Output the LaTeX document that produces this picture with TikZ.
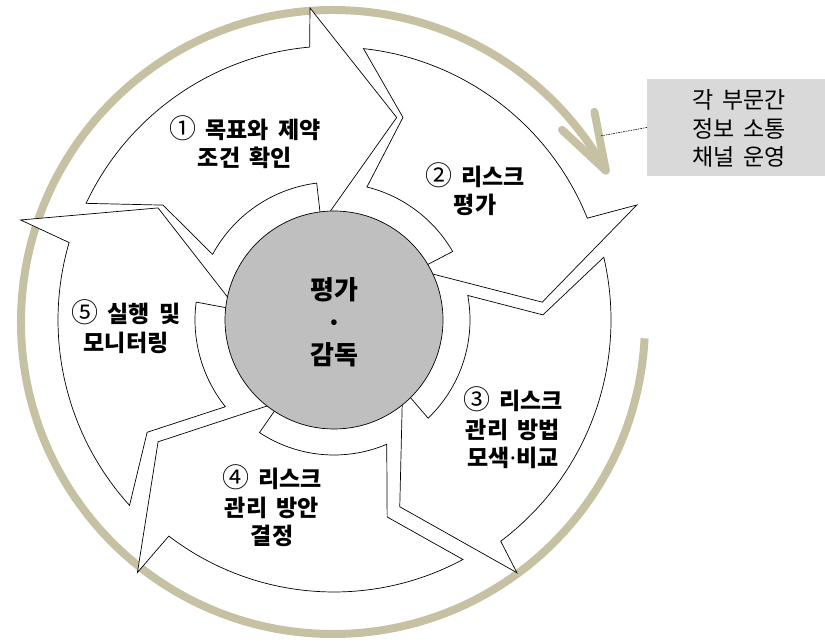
\documentclass[tikz,border=0pt]{standalone}
\usepackage{fontspec}
\newfontfamily\kr[WordSpace=1.8]{Noto Sans CJK KR}
\newfontfamily\latinsans{Noto Sans}
\definecolor{khaki}{RGB}{198,193,162}
\definecolor{ctrgray}{RGB}{191,191,191}
\definecolor{boxgray}{RGB}{217,217,217}
\newcommand\cnum[1]{{\mdseries\fontsize{27}{28}\selectfont #1}}
\newcommand\mdot{{\latinsans\bfseries ·}}
\begin{document}
\begin{tikzpicture}[x=1pt,y=1pt,
  segbox/.style={draw=black, fill=white, line width=0.7pt, line join=miter},
  lbl/.style={font={\kr\bfseries\fontsize{23}{28.5}\selectfont}, align=center, text=black, inner sep=0pt},
  ctrlbl/.style={font={\kr\bfseries\fontsize{26}{32.5}\selectfont}, align=center, text=black, inner sep=0pt},
  boxlbl/.style={font={\kr\fontsize{23}{28.5}\selectfont}, align=center, text=black, inner sep=0pt},
  cycarrow/.style={draw=khaki, line width=8pt}]
\useasboundingbox (0,0) rectangle (825,643);
\coordinate (C) at (334,323);
\coordinate (K) at (333,321);
% outer cycle arrow
\draw[cycarrow, line cap=butt] ([shift={(K)}]-3:312) arc[start angle=-3, end angle=-330.6, radius=312];
\coordinate (kt) at ([shift={(K)}]29:312);
\draw[cycarrow, line cap=round, line join=round] (kt) -- ++(101:60) (kt) -- ++(137:60);
% segment 1
\draw[segbox] ([shift={(C)}]154.8:274) arc[start angle=154.8, end angle=95.1, radius=274]
  -- ([shift={(C)}]94.4:313) -- ([shift={(C)}]72.8:212) -- ([shift={(C)}]97.5:97)
  -- ([shift={(C)}]97.2:138) arc[start angle=97.2, end angle=151.6, radius=138]
  -- ([shift={(C)}]146.1:206) -- cycle;
% segment 2
\draw[segbox] ([shift={(C)}]83.8:273) arc[start angle=83.8, end angle=21.9, radius=273]
  -- ([shift={(C)}]20.8:324) -- ([shift={(C)}]4.9:209) -- ([shift={(C)}]31:97)
  -- ([shift={(C)}]30:137) arc[start angle=30, end angle=76.1, radius=137]
  -- ([shift={(C)}]71.2:214) -- cycle;
% segment 3
\draw[segbox] ([shift={(C)}]13.1:277) arc[start angle=13.1, end angle=-53, radius=277]
  -- ([shift={(C)}]-54.1:312) -- ([shift={(C)}]-70.6:198) -- ([shift={(C)}]-45:97)
  -- ([shift={(C)}]-46.2:136) arc[start angle=-46.2, end angle=10.4, radius=136]
  -- ([shift={(C)}]1.4:209) -- cycle;
% segment 4
\draw[segbox] ([shift={(C)}]-61.7:272) arc[start angle=-61.7, end angle=-127.4, radius=272]
  -- ([shift={(C)}]-127.9:320) -- ([shift={(C)}]-145.3:214) -- ([shift={(C)}]-123:97)
  -- ([shift={(C)}]-123.5:135) arc[start angle=-123.5, end angle=-67, radius=135]
  -- ([shift={(C)}]-74.9:204) -- cycle;
% segment 5
\draw[segbox] ([shift={(C)}]-137.8:276) arc[start angle=-137.8, end angle=-196.3, radius=276]
  -- ([shift={(C)}]162.3:329) -- ([shift={(C)}]147.5:208.6) -- ([shift={(C)}]174:97)
  -- ([shift={(C)}]172.6:139) arc[start angle=172.6, end angle=218.6, radius=139]
  -- ([shift={(C)}]-149:218) -- cycle;
% centre
\node[circle, draw=black, fill=ctrgray, line width=0.7pt, minimum size=218pt, inner sep=0pt] (ctr) at (C) {};
\node[ctrlbl] (ctrtxt) at (334,320.5) {평가\\·\\감독};
% labels
\node[lbl] (l1) at (245,501) {\cnum{①} 목표와 제약\\조건 확인};
\node[lbl] (l2) at (475,454) {\cnum{②} 리스크\\평가};
\node[lbl] (l3) at (513,215) {\cnum{③} 리스크\\관리 방법\\모색\mdot 비교};
\node[lbl] (l4) at (272,137) {\cnum{④} 리스크\\관리 방안\\결정};
\node[lbl] (l5) at (126,316.5) {\cnum{⑤} 실행 및\\모니터링};
% side box
\node[fill=boxgray, minimum width=178pt, minimum height=97pt, inner sep=0pt] (box) at (736,515.5) {};
\node[boxlbl] (boxtxt) at (739,514.5) {각 부문간\\정보 소통\\채널 운영};
\coordinate (lead) at (600,507);
\draw[black, line width=0.6pt, dash pattern=on 1.5pt off 1pt] (box.west) -- (lead);
\end{tikzpicture}
\end{document}
